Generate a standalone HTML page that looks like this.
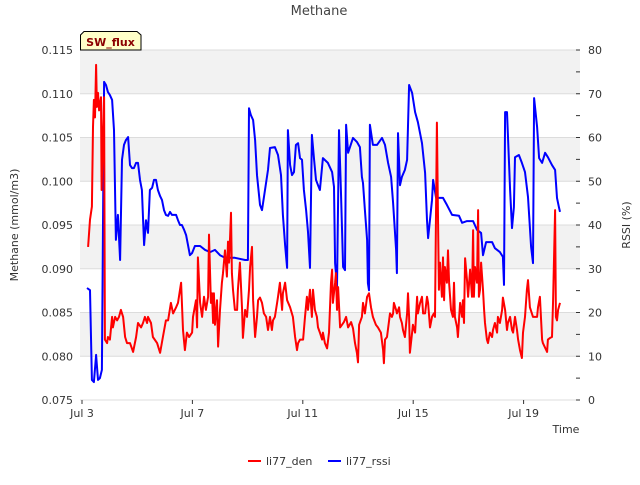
<!DOCTYPE html>
<html><head><meta charset="utf-8"><style>
body{margin:0;background:#fff;font-family:"Liberation Sans","DejaVu Sans",sans-serif}
svg text{font-family:"DejaVu Sans","Liberation Sans",sans-serif}
</style></head><body>
<svg id="c" width="640" height="480" xmlns="http://www.w3.org/2000/svg"></svg>
<script>
const denDays=[.22,.29,.36,.40,.43,.47,.51,.54,.58,.62,.69,.71,.76,.80,.83,.91,.94,1.01,1.09,1.12,1.20,1.27,1.34,1.41,1.49,1.56,1.63,1.74,1.85,1.96,2.03,2.14,2.21,2.28,2.36,2.39,2.50,2.57,2.72,2.83,2.93,3.04,3.12,3.22,3.30,3.41,3.48,3.59,3.66,3.73,3.80,3.88,3.99,4.02,4.13,4.17,4.20,4.28,4.35,4.42,4.49,4.57,4.60,4.67,4.71,4.75,4.78,4.82,4.89,4.93,5.00,5.07,5.11,5.18,5.25,5.29,5.33,5.40,5.43,5.47,5.54,5.62,5.65,5.72,5.80,5.83,5.91,5.98,6.05,6.09,6.16,6.20,6.27,6.34,6.38,6.45,6.52,6.59,6.67,6.74,6.81,6.88,6.92,6.99,7.07,7.10,7.17,7.25,7.28,7.36,7.43,7.54,7.64,7.72,7.79,7.83,7.90,8.01,8.08,8.15,8.19,8.26,8.33,8.37,8.44,8.51,8.55,8.62,8.70,8.73,8.80,8.88,8.95,9.02,9.06,9.09,9.17,9.20,9.24,9.28,9.35,9.42,9.49,9.57,9.64,9.75,9.82,9.89,9.96,10.00,10.04,10.14,10.18,10.25,10.33,10.40,10.47,10.54,10.65,10.72,10.83,10.91,10.94,10.98,11.05,11.16,11.23,11.27,11.30,11.38,11.41,11.49,11.52,11.59,11.63,11.70,11.78,11.81,11.85,11.88,11.96,11.99,12.07,12.14,12.17,12.25,12.32,12.36,12.43,12.50,12.54,12.61,12.68,12.75,12.79,12.86,12.90,12.93,12.97,13.04,13.08,13.12,13.15,13.22,13.26,13.30,13.37,13.44,13.48,13.51,13.59,13.62,13.70,13.77,13.80,13.84,13.88,13.95,13.99,14.06,14.13,14.17,14.20,14.24,14.31,14.35,14.38,14.42,14.46,14.53,14.57,14.60,14.67,14.71,14.78,14.86,14.89,14.96,15.04,15.07,15.14,15.22,15.25,15.33,15.40,15.43,15.51,15.58,15.62,15.69,15.76,15.80,15.87,15.94,15.98,16.05,16.12,16.16,16.23,16.34,16.49,16.52,16.59,16.67,16.70,16.85,16.88,16.96,17.03,17.07,17.14,17.17,17.21,17.25,17.32];
const denValues=[.0925,.0956,.0971,.1062,.1093,.1073,.1133,.1085,.1101,.1081,.1096,.0990,.1055,.1096,.0819,.0815,.0822,.0819,.0845,.0833,.0845,.0841,.0845,.0853,.0845,.0822,.0815,.0815,.0805,.0822,.0838,.0833,.0838,.0845,.0838,.0845,.0838,.0822,.0815,.0804,.0822,.0841,.0841,.0861,.0849,.0856,.0861,.0884,.0830,.0807,.0827,.0822,.0827,.0845,.0864,.0833,.0913,.0861,.0845,.0868,.0853,.0868,.0939,.0861,.0872,.0838,.0872,.0836,.0864,.0811,.0853,.0884,.0895,.0921,.0891,.0931,.0907,.0964,.0895,.0876,.0853,.0853,.0876,.0907,.0853,.0821,.0853,.0845,.0876,.0902,.0925,.0864,.0822,.0845,.0864,.0867,.0861,.0849,.0845,.0830,.0845,.0830,.0841,.0845,.0861,.0868,.0884,.0853,.0872,.0884,.0864,.0856,.0845,.0822,.0807,.0815,.0819,.0819,.0845,.0868,.0853,.0876,.0845,.0876,.0853,.0845,.0833,.0827,.0819,.0827,.0815,.0809,.0827,.0884,.0899,.0861,.0884,.0895,.0853,.0879,.0833,.0836,.0839,.0845,.0833,.0839,.0832,.0815,.0804,.0793,.0836,.0845,.0861,.0849,.0868,.0872,.0856,.0845,.0836,.0833,.0827,.0807,.0792,.0819,.0822,.0849,.0845,.0849,.0861,.0853,.0849,.0856,.0845,.0838,.0830,.0822,.0849,.0872,.0845,.0804,.0827,.0836,.0827,.0868,.0849,.0861,.0868,.0849,.0849,.0868,.0861,.0833,.0845,.0849,.0845,.1067,.0959,.0876,.0907,.0868,.0913,.0864,.0902,.0884,.0921,.0884,.0853,.0845,.0884,.0845,.0833,.0822,.0861,.0845,.0864,.0838,.0912,.0887,.0868,.0899,.0868,.0944,.0868,.0902,.0884,.0967,.0868,.0876,.0907,.0876,.0853,.0838,.0819,.0815,.0827,.0822,.0830,.0838,.0827,.0845,.0838,.0853,.0867,.0853,.0830,.0838,.0845,.0830,.0827,.0845,.0830,.0819,.0807,.0798,.0827,.0845,.0876,.0887,.0856,.0845,.0845,.0856,.0868,.0819,.0815,.0805,.0819,.0821,.0822,.0864,.0967,.0845,.0841,.0853,.0861];
const rssiDays=[.18,.29,.36,.43,.51,.58,.65,.72,.80,.87,.94,1.01,1.09,1.16,1.23,1.30,1.38,1.45,1.52,1.59,1.67,1.74,1.81,1.88,1.96,2.03,2.10,2.17,2.25,2.32,2.39,2.46,2.54,2.61,2.68,2.75,2.83,2.90,2.97,3.04,3.12,3.19,3.26,3.41,3.48,3.55,3.62,3.70,3.77,3.84,3.91,3.99,4.09,4.28,4.46,4.64,4.82,5.00,5.18,5.54,5.91,6.01,6.05,6.12,6.20,6.27,6.34,6.45,6.52,6.63,6.74,6.81,6.99,7.10,7.21,7.28,7.36,7.43,7.46,7.54,7.61,7.68,7.75,7.83,7.90,7.97,8.04,8.12,8.19,8.26,8.33,8.41,8.48,8.55,8.62,8.73,8.91,9.06,9.13,9.17,9.24,9.31,9.38,9.46,9.53,9.57,9.64,9.71,9.82,9.96,10.07,10.14,10.18,10.25,10.33,10.36,10.40,10.43,10.54,10.69,10.87,10.98,11.09,11.20,11.27,11.38,11.41,11.45,11.52,11.59,11.70,11.78,11.85,11.96,12.07,12.17,12.32,12.43,12.50,12.54,12.68,12.72,12.83,13.08,13.22,13.41,13.66,13.77,13.95,14.17,14.31,14.46,14.53,14.64,14.86,14.96,15.14,15.25,15.29,15.33,15.40,15.51,15.58,15.65,15.69,15.83,15.94,16.05,16.16,16.27,16.34,16.38,16.49,16.56,16.67,16.78,16.88,17.03,17.14,17.21,17.28,17.32];
const rssiValues=[25.6,25.1,4.6,4.1,10.3,4.6,5.0,6.9,72.7,72.0,70.4,69.7,68.6,61.7,36.6,42.3,32.0,54.9,58.3,59.4,60.1,53.7,53.0,53.0,54.2,54.2,50.3,48.0,35.4,41.1,38.2,48.0,48.5,50.3,50.3,48.0,46.6,45.7,43.4,42.3,42.1,43.0,42.3,42.3,41.1,40.0,40.0,38.9,37.7,35.4,33.1,33.6,35.2,35.2,34.3,33.8,34.3,33.1,32.5,32.5,32.0,32.0,66.7,65.1,64.0,59.4,51.4,44.6,43.4,48.0,52.6,57.6,57.8,56.0,51.4,42.3,35.4,30.2,61.7,53.7,51.4,52.1,58.3,58.7,55.3,54.9,48.0,43.4,38.4,30.2,60.6,54.9,50.3,49.1,48.0,55.3,54.2,52.1,48.7,31.3,25.8,61.7,48.0,30.4,29.7,62.9,56.5,57.8,59.9,59.0,57.8,51.0,49.6,43.4,36.6,26.7,25.1,62.9,58.3,58.3,59.9,58.3,54.2,51.0,45.0,34.3,29.0,61.0,49.1,51.0,52.6,54.9,72.0,70.2,65.8,63.5,58.7,51.9,41.1,37.0,45.7,50.3,46.2,46.2,44.6,42.3,42.1,40.5,40.9,40.9,38.9,38.2,33.1,36.1,36.1,34.7,33.8,32.7,26.3,65.8,65.8,48.0,39.3,44.1,55.5,56.0,54.2,52.1,46.4,35.0,31.3,69.0,62.4,55.3,54.2,56.5,55.5,53.7,52.6,46.2,44.1,43.0];
const leftTicks=[0.075,0.080,0.085,0.090,0.095,0.100,0.105,0.110,0.115];
const rightTicks=[0,10,20,30,40,50,60,70,80];
const xTickDays=[0,4,8,12,16];
const xTickLabels=["Jul 3","Jul 7","Jul 11","Jul 15","Jul 19"];

const NS="http://www.w3.org/2000/svg",svg=document.getElementById('c');
const L=80,R=580,T=50,B=400;
const xs=d=>82+d*27.6;
const yl=v=>B-(v-0.075)/0.04*(B-T);
const yr=v=>B-v/80*(B-T);
function mk(tag,attrs,parent){const e=document.createElementNS(NS,tag);for(const k in attrs)e.setAttribute(k,attrs[k]);(parent||svg).appendChild(e);return e;}
function tx(s,attrs){const e=mk('text',attrs);e.textContent=s;return e;}

// bands
for(let i=0;i<leftTicks.length-1;i++){
  if(i%2===0){const b=mk('rect',{x:L,y:yl(leftTicks[i+1]),width:R-L,height:yl(leftTicks[i])-yl(leftTicks[i+1]),fill:'#f2f2f2'});
  
  }
}
// wait: top band grey -> bands between ticks i+1..i where index from top
svg.innerHTML='';
for(let i=0;i<leftTicks.length-1;i++){
  const fromTop=leftTicks.length-2-i;
  if(fromTop%2===0){const b=mk('rect',{x:L,y:yl(leftTicks[i+1]),width:R-L,height:yl(leftTicks[i])-yl(leftTicks[i+1]),fill:'#f2f2f2'});
  
  }
}
leftTicks.forEach(v=>{
  const g=mk('line',{x1:L,x2:R,y1:yl(v),y2:yl(v),stroke:'#dcdcdc','stroke-width':1});
  
  
  const t=tx(v.toFixed(3),{x:73,y:yl(v)+4,'text-anchor':'end','font-size':11,fill:'#333'});
  
  
});
rightTicks.forEach(v=>{
  const t=tx(String(v),{x:588,y:yr(v)+4,'font-size':11,fill:'#333'});
  
  
  mk('line',{x1:R,x2:R-4,y1:yr(v),y2:yr(v),stroke:'#333'});
  if(v<80)mk('line',{x1:R,x2:R-4,y1:yr(v+5),y2:yr(v+5),stroke:'#333'});
});
xTickDays.forEach((d,i)=>{
  mk('line',{x1:xs(d),x2:xs(d),y1:B,y2:B+4,stroke:'#333'});
  const t=tx(xTickLabels[i],{x:xs(d),y:417,'text-anchor':'middle','font-size':11,fill:'#333'});
  
  
});
function line(days,vals,fy,col,name){
  const p=days.map((d,i)=>xs(d).toFixed(1)+','+fy(vals[i]).toFixed(1)).join(' ');
  const e=mk('polyline',{points:p,fill:'none',stroke:col,'stroke-width':2,'stroke-linejoin':'round'});
  
  
}
line(rssiDays,rssiValues,yr,'#0000ff','li77-rssi-line');
line(denDays,denValues,yl,'#ff0000','li77-den-line');

const title=tx('Methane',{x:319,y:15,'text-anchor':'middle','font-size':13,fill:'#444'});


const ylt=tx('Methane (mmol/m3)',{x:18,y:225,'text-anchor':'middle','font-size':11,fill:'#333',transform:'rotate(-90 18 225)'});


const yrt=tx('RSSI (%)',{x:630,y:225,'text-anchor':'middle','font-size':11,fill:'#333',transform:'rotate(-90 630 225)'});


const xt=tx('Time',{x:566,y:433,'text-anchor':'middle','font-size':11,fill:'#333'});



const box=mk('polygon',{points:'80.5,50 80.5,35 84,31.5 137,31.5 141,35 141,50',fill:'#ffffc8',stroke:'#000','stroke-width':1});


const bt=tx('SW_flux',{x:110.5,y:46,'text-anchor':'middle','font-size':11,'font-weight':'bold',fill:'#8b0000'});



const l1=mk('line',{x1:248,x2:261,y1:461,y2:461,stroke:'#ff0000','stroke-width':2});


const lt1=tx('li77_den',{x:266,y:465,'font-size':11,fill:'#333'});


const l2=mk('line',{x1:328,x2:341,y1:461,y2:461,stroke:'#0000ff','stroke-width':2});


const lt2=tx('li77_rssi',{x:346,y:465,'font-size':11,fill:'#333'});


</script>
</body></html>
